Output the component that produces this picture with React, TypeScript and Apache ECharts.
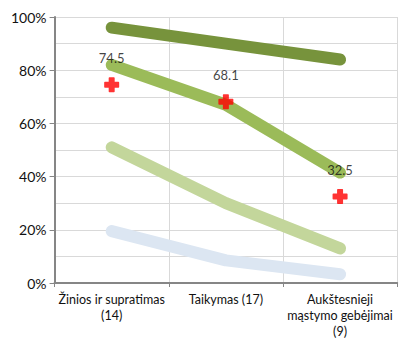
import React, { useEffect, useRef } from "react";
import * as echarts from "echarts";

const categories = ["Žinios ir supratimas\n(14)", "Taikymas (17)", "Aukštesnieji\nmąstymo gebėjimai\n(9)"];
const seriesDark = [96, 90, 84];
const seriesMid = [82, 67, 41.5];
const seriesLight = [51, 30, 13];
const seriesBlue = [19.5, 8.5, 3.3];
const results = [74.5, 68.1, 32.5];

export default function App() {
  const ref = useRef<HTMLDivElement>(null);
  useEffect(() => {
    const chart = echarts.init(ref.current!, null, { renderer: "svg" });
    const font = "Lato, 'Open Sans', sans-serif";
    const lineSeries = (data: number[], color: string) => ({
      type: "line",
      data,
      symbol: "none",
      lineStyle: { width: 12, color, cap: "round", join: "round" },
      z: 2,
    });
    chart.setOption({
      animation: false,
      grid: { left: 46, right: 2, top: 9, bottom: 51 },
      xAxis: {
        type: "category",
        data: categories,
        boundaryGap: true,
        axisLine: { lineStyle: { color: "#868686", width: 2 } },
        axisTick: { show: true, length: 4, lineStyle: { color: "#868686" } },
        splitLine: { show: true, lineStyle: { color: "#d9d9d9", width: 1 } },
        axisLabel: { color: "#111", fontSize: 12.5, fontFamily: font, lineHeight: 16, margin: 8, interval: 0, overflow: "none", width: 140 },
      },
      yAxis: {
        type: "value",
        min: 0,
        max: 100,
        interval: 20,
        axisLine: { show: true, lineStyle: { color: "#868686", width: 2 } },
        axisTick: { show: true, length: 5, lineStyle: { color: "#868686" } },
        splitLine: { show: true, lineStyle: { color: "#d9d9d9", width: 1 } },
        minorTick: { show: false, splitNumber: 2 },
        minorSplitLine: { show: true, lineStyle: { color: "#d9d9d9", width: 1 } },
        axisLabel: { color: "#111", fontSize: 14, fontFamily: font, formatter: "{value}%", margin: 8 },
      },
      series: [
        lineSeries(seriesDark, "#77933c"),
        lineSeries(seriesMid, "#9bbb59"),
        lineSeries(seriesLight, "#c3d69b"),
        lineSeries(seriesBlue, "#dce6f2"),
        {
          type: "scatter",
          data: results,
          symbol: "path://M3.5,0 H6.5 Q7,0 7,0.5 V3 H9.5 Q10,3 10,3.5 V6.5 Q10,7 9.5,7 H7 V9.5 Q7,10 6.5,10 H3.5 Q3,10 3,9.5 V7 H0.5 Q0,7 0,6.5 V3.5 Q0,3 0.5,3 H3 V0.5 Q3,0 3.5,0 Z",
          symbolSize: 15,
          itemStyle: { color: "#ff0000" },
          z: 5,
          label: {
            show: true,
            position: "top",
            distance: 13,
            color: "#111",
            fontSize: 13,
            fontFamily: font,
            formatter: (p: any) => p.value.toFixed(1),
          },
        },
      ],
    });
    return () => chart.dispose();
  }, []);
  return <div ref={ref} style={{ width: 403, height: 331 }} />;
}
